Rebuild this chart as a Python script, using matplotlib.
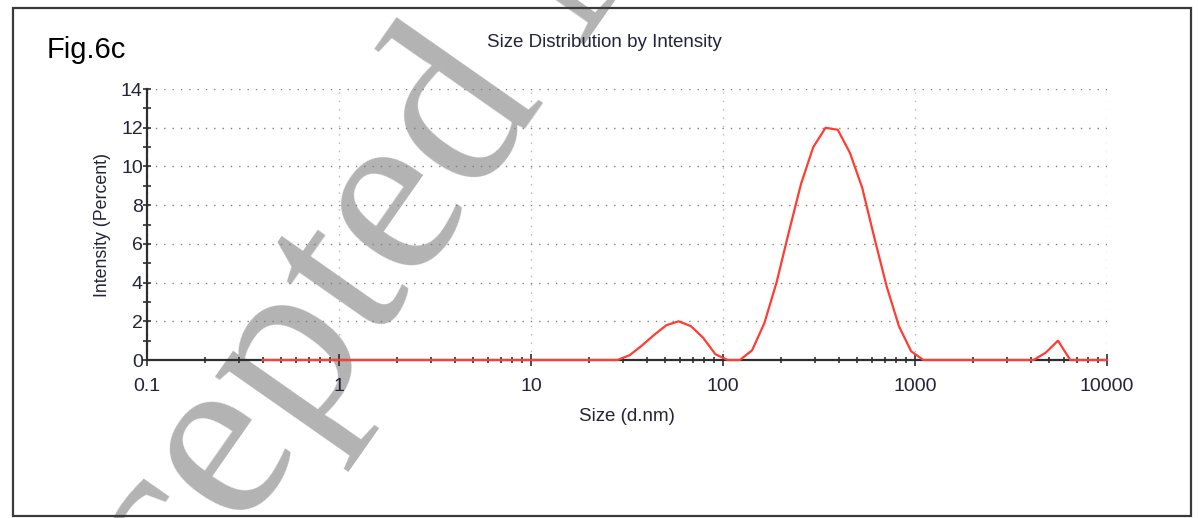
import matplotlib

matplotlib.use("Agg")
import matplotlib.pyplot as plt
from matplotlib.patches import Rectangle
from matplotlib.ticker import FixedLocator, LogLocator, NullFormatter

# DLS size classes (d.nm) and intensity-weighted distribution (%)
SIZES_NM = [
    0.4000, 0.4632, 0.5365, 0.6213, 0.7195, 0.8332, 0.9649,
    1.117, 1.294, 1.499, 1.736, 2.010, 2.328, 2.696, 3.122, 3.615,
    4.187, 4.849, 5.615, 6.503, 7.531, 8.721,
    10.10, 11.70, 13.54, 15.69, 18.17, 21.04, 24.36, 28.21, 32.67,
    37.84, 43.82, 50.75, 58.77, 68.06, 78.82, 91.28,
    105.7, 122.4, 141.8, 164.2, 190.1, 220.2, 255.0, 295.3, 342.0,
    396.1, 458.7, 531.2, 615.1, 712.4, 825.0, 955.4,
    1106, 1281, 1484, 1718, 1990, 2305, 2669, 3091, 3580, 4145,
    4801, 5560, 6439, 7456, 8635, 10000,
]
INTENSITY_PCT = [
    0.0, 0.0, 0.0, 0.0, 0.0, 0.0, 0.0,
    0.0, 0.0, 0.0, 0.0, 0.0, 0.0, 0.0, 0.0, 0.0,
    0.0, 0.0, 0.0, 0.0, 0.0, 0.0,
    0.0, 0.0, 0.0, 0.0, 0.0, 0.0, 0.0, 0.0, 0.25,
    0.75, 1.3, 1.8, 2.0, 1.75, 1.15, 0.3,
    0.0, 0.0, 0.5, 1.9, 4.0, 6.6, 9.1, 11.0, 12.0,
    11.9, 10.7, 8.9, 6.3, 3.8, 1.75, 0.45,
    0.0, 0.0, 0.0, 0.0, 0.0, 0.0, 0.0, 0.0, 0.0, 0.0,
    0.38, 1.0, 0.0, 0.0, 0.0, 0.0,
]

X_TICKS = [0.1, 1, 10, 100, 1000, 10000]
X_TICK_LABELS = ["0.1", "1", "10", "100", "1000", "10000"]
Y_TICKS = [0, 2, 4, 6, 8, 10, 12, 14]
Y_MINOR = [1, 3, 5, 7, 9, 11, 13]

AXIS_COLOR = "#2e2e2e"
TEXT_COLOR = "#23233a"
CURVE_COLOR = "#ff3d33"

plt.rcParams["font.family"] = ["Liberation Sans", "DejaVu Sans"]

fig = plt.figure(figsize=(11.98, 5.18), dpi=100)
ax = fig.add_axes([0.1227, 0.305, 0.8013, 0.523])
ax.patch.set_visible(False)

# journal watermark, sits behind the plot
fig.text(
    0.014, -0.652, "Accepted Manuscript",
    rotation=55, rotation_mode="anchor", ha="left", va="baseline",
    fontsize=176, family="Liberation Serif", color="#b3b3b3", zorder=-1,
)

# outer frame
fig.add_artist(Rectangle(
    (13 / 1198, 1 - 516 / 518), 1178 / 1198, 508 / 518,
    transform=fig.transFigure, fill=False, ec="#3a3a3a", lw=1.6,
))

ax.plot(SIZES_NM, INTENSITY_PCT, color=CURVE_COLOR, lw=1.6, zorder=3, clip_on=False)

ax.set_xscale("log")
ax.set_xlim(0.1, 10000)
ax.set_ylim(0, 14)
ax.set_xticks(X_TICKS, X_TICK_LABELS)
ax.xaxis.set_minor_locator(LogLocator(base=10, subs=range(2, 10), numticks=20))
ax.xaxis.set_minor_formatter(NullFormatter())
ax.set_yticks(Y_TICKS)
ax.yaxis.set_minor_locator(FixedLocator(Y_MINOR))

ax.grid(axis="y", which="major", color="#808080", lw=1.0, linestyle=(0, (1, 5)))
ax.grid(axis="x", which="major", color="#b8b8b8", lw=1.0, linestyle=(0, (1, 5)))

for side in ["top", "right"]:
    ax.spines[side].set_visible(False)
for side in ["left", "bottom"]:
    ax.spines[side].set_color(AXIS_COLOR)
    ax.spines[side].set_linewidth(1.6)

ax.tick_params(axis="both", which="both", direction="inout", color=AXIS_COLOR,
               labelcolor=TEXT_COLOR, labelsize=14, width=1.2)
ax.tick_params(axis="x", which="major", length=8, pad=9)
ax.tick_params(axis="x", which="minor", length=5)
ax.tick_params(axis="y", which="major", length=6, pad=0)
ax.tick_params(axis="y", which="minor", length=6)

ax.set_xlabel("Size (d.nm)", fontsize=13.5, color=TEXT_COLOR, labelpad=9)
ax.set_ylabel("Intensity (Percent)", fontsize=12.8, color=TEXT_COLOR, labelpad=7)

fig.text(0.5046, 0.909, "Size Distribution by Intensity", ha="center", va="baseline",
         fontsize=13.5, color=TEXT_COLOR)
fig.text(0.039, 0.888, "Fig.6c", ha="left", va="baseline", fontsize=21, color="black")

fig.savefig("out.png", dpi=100)
